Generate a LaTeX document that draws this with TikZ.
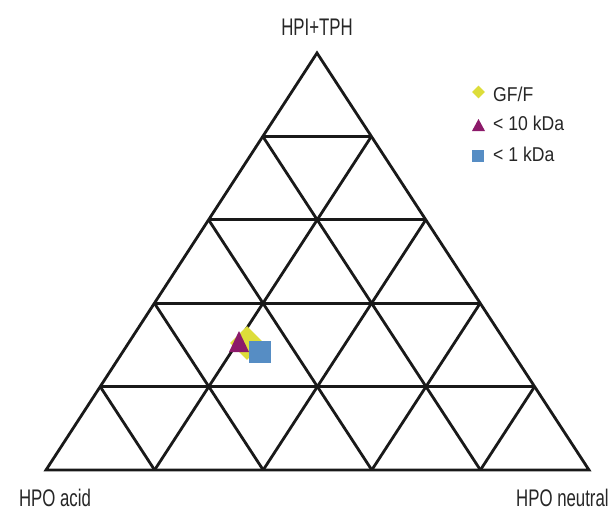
\documentclass[tikz,border=0pt]{standalone}
\usepackage{fontspec}
\setmainfont{Liberation Sans}[FakeStretch=0.7]
\newfontfamily\legendfont{Liberation Sans}[FakeStretch=0.88]
\usetikzlibrary{calc,shapes.geometric}
\definecolor{gfyellow}{RGB}{221,221,58}
\definecolor{kdapurple}{RGB}{140,26,106}
\definecolor{kdablue}{RGB}{86,141,196}

\begin{document}
\begin{tikzpicture}[
		x=1pt, y=-1pt,
		grid/.style={line width=2.8pt, draw=black!90, line join=miter},
		axis/.style={font=\fontsize{24}{28}\selectfont, text=black!85, inner sep=0pt, anchor=base},
		legend/.style={font=\legendfont\fontsize{20}{24}\selectfont, text=black!85, inner sep=0pt, anchor=base west},
		gf/.style={fill=gfyellow, inner sep=0pt},
		tenk/.style={fill=kdapurple},
		onek/.style={fill=kdablue, inner sep=0pt},
	]
	\useasboundingbox (0,0) rectangle (616,512);
	% corners of the ternary plot
	\coordinate (acid) at (46,470);
	\coordinate (neutral) at (589,470);
	\coordinate (hpi) at (317,53);

	% grid
	\foreach \k in {1,...,4} {
		\draw[grid] ($(acid)!\k/5!(hpi)$) -- ($(neutral)!\k/5!(hpi)$);
		\draw[grid] ($(acid)!\k/5!(neutral)$) -- ($(hpi)!\k/5!(neutral)$);
		\draw[grid] ($(neutral)!\k/5!(acid)$) -- ($(hpi)!\k/5!(acid)$);
	}
	\draw[grid] (acid) -- (neutral) -- (hpi) -- cycle;

	% data points
	\node[gf, diamond, minimum size=34pt] (gfmark) at (247,343) {};
	\fill[tenk] (239,331) -- (249,352) -- (229,352) -- cycle;
	\node[onek, minimum size=22pt] (onekmark) at (260,352) {};

	% legend
	\node[gf, diamond, minimum size=13pt] (gfkey) at (478.5,92) {};
	\fill[tenk] (478.5,119) -- (485,131) -- (472,131) -- cycle;
	\node[onek, minimum size=12pt] (onekkey) at (478,156) {};
	\node[legend] (gftext) at (493,101) {GF/F};
	\node[legend] (tenktext) at (493,130) {< 10 kDa};
	\node[legend] (onektext) at (493,161) {< 1 kDa};

	% axis labels
	\node[axis] (hpilabel) at (317,35) {HPI+TPH};
	\node[axis] (acidlabel) at (55,506.5) {HPO acid};
	\node[axis, anchor=base west] (neutrallabel) at (516,506.5) {HPO neutral};
\end{tikzpicture}
\end{document}
